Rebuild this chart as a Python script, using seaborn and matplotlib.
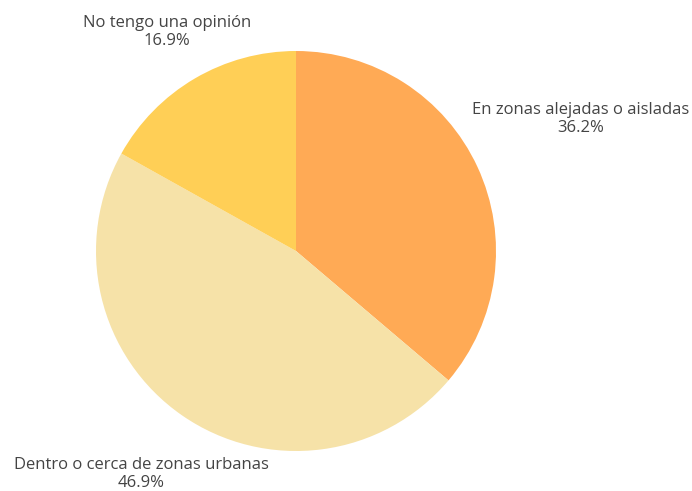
import numpy as np
import matplotlib
matplotlib.use("Agg")
import matplotlib.pyplot as plt
import seaborn as sns

# datos
categorias = ["En zonas alejadas o aisladas", "Dentro o cerca de zonas urbanas", "No tengo una opinión"]
porcentajes = [36.2, 46.9, 16.9]
colores = ["#FFAA55", "#F6E2A8", "#FFCF56"]

sns.set_style("white")
plt.rcParams["font.family"] = ["Open Sans", "DejaVu Sans"]

fig = plt.figure(figsize=(6.92, 4.91), dpi=100)
ax = fig.add_axes([0, 0, 1, 1])

wedges, _ = ax.pie(porcentajes, colors=sns.color_palette(colores), startangle=90,
                   counterclock=False, radius=1, wedgeprops=dict(linewidth=0))

# distancia de cada etiqueta al centro (en radios)
distancias = [1.57, 1.355, 1.27]
for w, cat, pct, d in zip(wedges, categorias, porcentajes, distancias):
    ang = np.deg2rad((w.theta1 + w.theta2) / 2)
    ax.text(d * np.cos(ang), d * np.sin(ang), f"{cat}\n{pct}%", ha="center", va="center",
            fontsize=12, color="#444444", linespacing=1.15)

ax.set_xlim(-1.48, 1.98)
ax.set_ylim(-1.2, 1.255)
ax.set_aspect("equal")
ax.axis("off")

fig.savefig("out.png", dpi=100, facecolor="white")
